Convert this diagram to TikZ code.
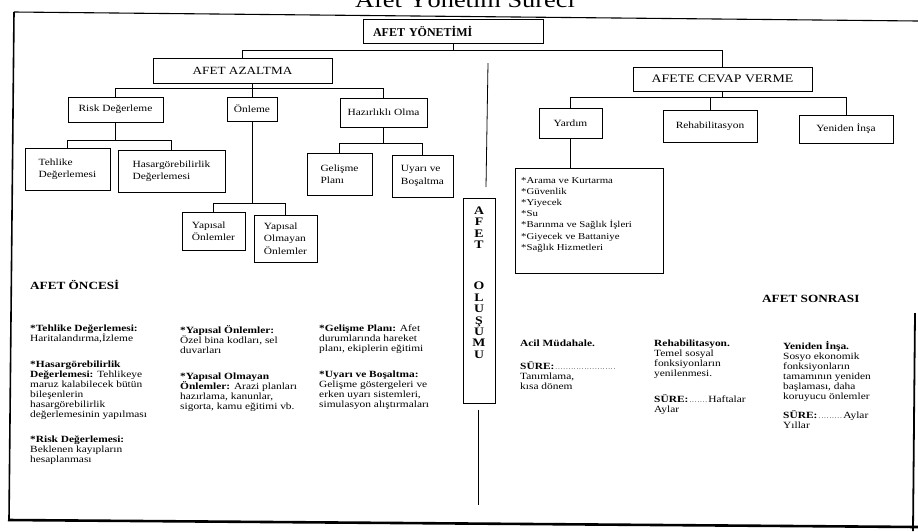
\documentclass[tikz,border=0pt]{standalone}
\usepackage{fontspec}
\setmainfont[FakeStretch=1.2]{Liberation Serif}
\newfontfamily\plainserif{Liberation Serif}
\usetikzlibrary{calc}
\newcommand{\leaderdots}[1]{{\fontsize{6}{6}\selectfont\makebox[#1]{\dotfill}}}
\begin{document}
\begin{tikzpicture}[x=1pt,y=-1pt,
  bx/.style={draw, line width=0.9pt, inner sep=2pt, align=left, font=\fontsize{9.5}{12.5}\selectfont},
  conn/.style={line width=0.8pt},
  frame/.style={line width=1.6pt},
  body/.style={align=left, anchor=north west, inner sep=0pt, font=\fontsize{9.5}{10}\selectfont},
  head/.style={anchor=base west, inner sep=0pt, font=\fontsize{11}{13}\selectfont\bfseries},
]
\useasboundingbox (0,0) rectangle (918,531);
\fill[white] (0,0) rectangle (918,531);

% title (cut by the page top, as in the scan)
\node[anchor=base, inner sep=0pt, font=\fontsize{22}{22}\selectfont] (title) at (465,7) {Afet Yönetim Süreci};

% frame
\draw[frame] (14,12) -- (9,520);
\draw[line width=1.1pt] (14,12) -- (918,21);
\draw[line width=2.6pt] (8,520) -- (918,527);
\draw[line width=1.8pt] (915,313) -- (913,531);

% boxes
\node[bx, text width=160pt, inner xsep=10pt, minimum height=24pt, font=\plainserif\bfseries\fontsize{12}{14}\selectfont] (yon) at (453,31) {AFET YÖNETİMİ};
\node[bx, minimum width=179pt, minimum height=25pt, align=center, font=\fontsize{11}{13}\selectfont] (aza) at (242.5,70.5) {AFET AZALTMA};
\node[bx, minimum width=179pt, minimum height=24pt, align=center, font=\fontsize{11.5}{13}\selectfont] (cev) at (722.5,79) {AFETE CEVAP VERME};

\node[bx, minimum width=95pt, minimum height=25pt] (risk) at (115.5,109.5) {Risk Değerleme};
\node[bx, minimum width=50pt, minimum height=24pt] (onl) at (252,109) {Önleme};
\node[bx, minimum width=87pt, minimum height=29pt] (haz) at (383.5,112.5) {Hazırlıklı Olma};

\node[bx, minimum width=85pt, minimum height=42pt] (teh) at (67.5,169) {Tehlike\\Değerlemesi};
\node[bx, minimum width=107pt, minimum height=42pt] (has) at (171.5,171) {Hasargörebilirlik\\Değerlemesi};
\node[bx, minimum width=65pt, minimum height=42pt] (gel) at (339.5,174) {Gelişme\\Planı};
\node[bx, minimum width=61pt, minimum height=42pt] (uya) at (422.5,176) {Uyarı ve\\Boşaltma};
\node[bx, minimum width=63pt, minimum height=38pt] (yap) at (213.5,231) {Yapısal\\Önlemler};
\node[bx, minimum width=63pt, minimum height=47pt] (yapo) at (285.5,238.5) {Yapısal\\Olmayan\\Önlemler};

\node[bx, minimum width=63pt, minimum height=30pt] (yar) at (570.5,123) {Yardım};
\node[bx, minimum width=94pt, minimum height=32pt] (reh) at (710,126) {Rehabilitasyon};
\node[bx, minimum width=94pt, minimum height=28pt] (yen) at (846,129) {Yeniden İnşa};

\node[bx, minimum width=148pt, minimum height=105pt] (list) at (589,220.5) {};
\node[body, font=\fontsize{9}{11.2}\selectfont] (listtext) at (521,177) {*Arama ve Kurtarma\\*Güvenlik\\*Yiyecek\\*Su\\*Barınma ve Sağlık İşleri\\*Giyecek ve Battaniye\\*Sağlık Hizmetleri};

\node[draw, line width=0.9pt, minimum width=32pt, minimum height=205pt, inner sep=0pt] (olusum) at (479,300.5) {};
\node[anchor=north, inner sep=0pt, align=center, font=\fontsize{11.5}{11.4}\selectfont\bfseries] (olusumtext) at (479,206.5) {A\\F\\E\\T\\[30pt]O\\L\\U\\Ş\\U\\M\\U};

% connectors
\draw[conn] (yon.south) -- (yon.south |- 0,50);
\draw[conn] (aza.north) -- (aza.north |- 0,50) -| (cev.north);
\draw[conn] (aza.south -| onl.north) -- (onl.north);
\draw[conn] (risk.north) -- (risk.north |- 0,88) -| (haz.north);
\draw[conn] (risk.south) -- (risk.south |- 0,140);
\draw[conn] (teh.north) -- (teh.north |- 0,140) -| (has.north);
\draw[conn] (onl.south) -- (onl.south |- 0,203);
\draw[conn] (yap.north) -- (yap.north |- 0,203) -| (yapo.north);
\draw[conn] (haz.south) -- (haz.south |- 0,143);
\draw[conn] (gel.north) -- (gel.north |- 0,143) -| (uya.north);
\draw[conn] (cev.south) -- (cev.south |- 0,97);
\draw[conn] (yar.north) -- (yar.north |- 0,97) -| (yen.north);
\draw[conn] (reh.north) -- (reh.north |- 0,97);
\draw[conn] (yar.south) -- (yar.south |- list.north);

\coordinate (divtop) at (488,63);
\coordinate (divmid) at (486,187);
\coordinate (divlow) at (478,410);
\coordinate (divbot) at (478,505);
\draw[conn] (divtop) -- (divmid);
\draw[conn] (divlow) -- (divbot);

% lower texts
\node[head] (once) at (30,289) {AFET ÖNCESİ};
\node[head] (sonra) at (762,302) {AFET SONRASI};

\node[body] (c1) at (30,325) {\textbf{*Tehlike Değerlemesi:}\\Haritalandırma,İzleme\\[16pt]\textbf{*Hasargörebilirlik}\\\textbf{Değerlemesi:} Tehlikeye\\maruz kalabilecek bütün\\bileşenlerin\\hasargörebilirlik\\değerlemesinin yapılması\\[15pt]\textbf{*Risk Değerlemesi:}\\Beklenen kayıpların\\hesaplanması};
\node[body] (c2) at (180,325) {\textbf{*Yapısal Önlemler:}\\Özel bina kodları, sel\\duvarları\\[16pt]\textbf{*Yapısal Olmayan}\\\textbf{Önlemler:} Arazi planları\\hazırlama, kanunlar,\\sigorta, kamu eğitimi vb.};
\node[body] (c3) at (319,325) {\textbf{*Gelişme Planı:} Afet\\durumlarında hareket\\planı, ekiplerin eğitimi\\[16pt]\textbf{*Uyarı ve Boşaltma:}\\Gelişme göstergeleri ve\\erken uyarı sistemleri,\\simulasyon alıştırmaları};

\node[body] (ca) at (520,340) {\textbf{Acil Müdahale.}\\[13pt]\textbf{SÜRE:}\leaderdots{62pt}\\Tanımlama,\\kısa dönem};
\node[body] (cb) at (654,340) {\textbf{Rehabilitasyon.}\\Temel sosyal\\fonksiyonların\\yenilenmesi.\\[16pt]\textbf{SÜRE:}\leaderdots{20pt}Haftalar\\Aylar};
\node[body] (cc) at (783,341) {\textbf{Yeniden İnşa.}\\Sosyo ekonomik\\fonksiyonların\\tamamının yeniden\\başlaması, daha\\koruyucu önlemler\\[9pt]\textbf{SÜRE:}\leaderdots{26pt}Aylar\\Yıllar};
\end{tikzpicture}
\end{document}
